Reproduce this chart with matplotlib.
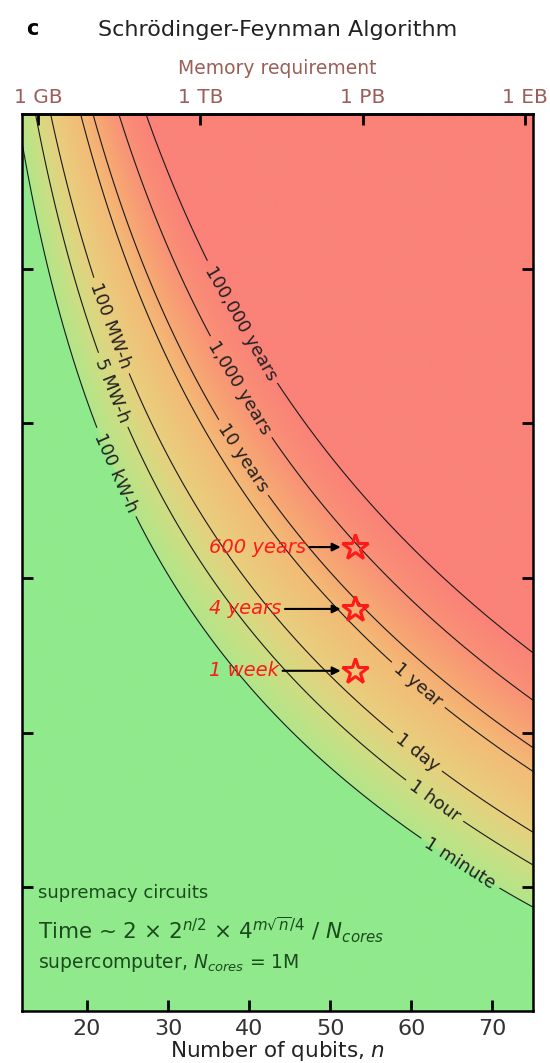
import numpy as np
import matplotlib
matplotlib.use("Agg")
import matplotlib.pyplot as plt
from matplotlib.colors import LinearSegmentedColormap

# ---- model parameters ----
n_range = [12, 75]            # number of qubits shown
m_range = [1, 30]             # number of cycles shown
n_cores = 1e6                 # supercomputer cores
sec_per_op = 3.2e-10          # seconds per elementary operation

minute, hour, day, year = 60.0, 3600.0, 86400.0, 3.156e7

# time contours (seconds) and their labels
time_levels = [1 * minute, 1 * hour, 1 * day, 1 * year, 10 * year, 1e3 * year, 1e5 * year]
time_labels = ["1 minute", "1 hour", "1 day", "1 year", "10 years", "1,000 years", "100,000 years"]
time_label_pos = [(66.1, 5.8), (62.6, 7.7), (61.1, 9.5), (60.4, 11.4),
                  (39.9, 19.0), (38.5, 21.1), (39.3, 23.3)]

# energy equivalents of the three shortest contours
energy_levels = [1 * minute, 1 * hour, 1 * day]
energy_labels = ["100 kW-h", "5 MW-h", "100 MW-h"]
energy_label_pos = [(24.3, 18.5), (23.4, 21.1), (22.4, 23.1)]

# experiment estimates
star_qubits = [53, 53, 53]
star_cycles = [16, 14, 12]
star_labels = ["600 years", "4 years", "1 week"]

# memory axis
memory_qubits = [14, 34, 54, 74]
memory_labels = ["1 GB", "1 TB", "1 PB", "1 EB"]

x_ticks = [20, 30, 40, 50, 60, 70]
y_ticks = [5, 10, 15, 20, 25]

# colour ramp over log10(time), from 1 minute to 100,000 years
below_color = "#90ea8c"
color_stops = [
    (0.000, "#b2e689"),
    (0.166, "#d2dc82"),
    (0.295, "#e8cf7e"),
    (0.534, "#f3ba76"),
    (0.627, "#f6ab73"),
    (0.813, "#f99176"),
    (1.000, "#fa8278"),
]

# ---- time field ----
n = np.linspace(n_range[0], n_range[1], 700)
m = np.linspace(m_range[0], m_range[1], 700)
N, M = np.meshgrid(n, m)
log2_ops = 1 + N / 2 + 2 * (M * np.sqrt(N) / 4)      # 2 * 2^(n/2) * 4^(m sqrt(n)/4)
log_time = log2_ops * np.log10(2) - np.log10(n_cores) + np.log10(sec_per_op)

fig = plt.figure(figsize=(5.5, 10.63), dpi=100)
ax = fig.add_axes([0.04, 0.0489, 0.929, 0.8438])

cmap = LinearSegmentedColormap.from_list("sfa", color_stops)
cmap.set_under(below_color)
vmin, vmax = np.log10(time_levels[0]), np.log10(time_levels[-1])
ax.imshow(log_time, extent=[n_range[0], n_range[1], m_range[0], m_range[1]],
          origin="lower", aspect="auto", cmap=cmap, vmin=vmin, vmax=vmax,
          interpolation="bilinear", zorder=0)

cs = ax.contour(N, M, log_time, levels=np.log10(time_levels),
                colors="#1a1a1a", linewidths=0.8, zorder=2)
cs.clabel(levels=cs.levels, fmt=dict(zip(cs.levels, time_labels)),
          manual=time_label_pos, inline=True, inline_spacing=6,
          fontsize=13, colors="#222222")
cs.clabel(levels=cs.levels[:len(energy_levels)],
          fmt=dict(zip(cs.levels[:len(energy_levels)], energy_labels)),
          manual=energy_label_pos, inline=True, inline_spacing=6,
          fontsize=13, colors="#222222")

# stars with annotations
ax.plot(star_qubits, star_cycles, linestyle="none", marker="*", markersize=19,
        markerfacecolor="none", markeredgecolor="#ff1a1a", markeredgewidth=2.2,
        zorder=5)
for q, c, lab in zip(star_qubits, star_cycles, star_labels):
    ax.annotate(lab, xy=(q, c), xytext=(35.0, c), ha="left", va="center",
                fontsize=14, style="italic", color="#ff1a1a",
                arrowprops=dict(arrowstyle="-|>", color="black", lw=1.5,
                                shrinkA=1, shrinkB=10, mutation_scale=12),
                zorder=6)

# text block
txt_color = "#1b4a1d"
ax.text(0.031, 0.1316, "supremacy circuits", transform=ax.transAxes,
        fontsize=13, color=txt_color, va="center", ha="left")
ax.text(0.031, 0.0903,
        r"Time ~ 2 × 2$^{n/2}$ × 4$^{m\sqrt{n}/4}$ / $N_{cores}$",
        transform=ax.transAxes, fontsize=15.5, color=txt_color, va="center", ha="left")
ax.text(0.031, 0.0535, r"supercomputer, $N_{cores}$ = 1M", transform=ax.transAxes,
        fontsize=13.5, color=txt_color, va="center", ha="left")

# axes styling
ax.set_xlim(n_range)
ax.set_ylim(m_range)
ax.set_xticks(x_ticks)
ax.set_yticks(y_ticks)
ax.set_yticklabels([])
ax.tick_params(direction="in", length=8, width=2, right=True, top=False,
               labelsize=16, labelcolor="#333333", pad=6)
for sp in ax.spines.values():
    sp.set_linewidth(1.8)
ax.set_xlabel("Number of qubits, $n$", fontsize=15.5, color="#222222", labelpad=0)

mem_color = "#9c5f58"
sec = ax.secondary_xaxis("top")
sec.set_xticks(memory_qubits, labels=memory_labels)
sec.tick_params(direction="in", length=8, width=2, labelsize=14.5,
                labelcolor=mem_color, pad=5)
sec.spines["top"].set_linewidth(1.8)
sec.set_xlabel("Memory requirement", fontsize=13.5, color=mem_color, labelpad=10)

fig.text(0.048, 0.973, "c", fontsize=15, fontweight="bold", va="center", ha="left")
fig.text(0.504, 0.9718, "Schrödinger-Feynman Algorithm", fontsize=16,
         color="#222222", va="center", ha="center")

fig.savefig("out.png", dpi=100)
